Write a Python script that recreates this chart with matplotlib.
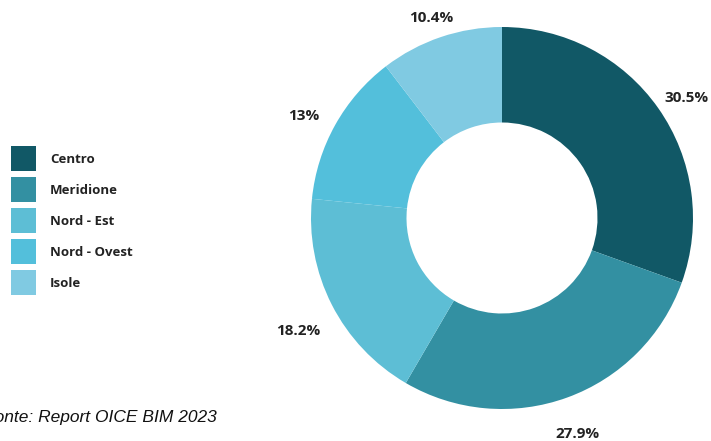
import matplotlib.pyplot as plt
import numpy as np

# Distribuzione per area geografica
regions = ["Centro", "Meridione", "Nord - Est", "Nord - Ovest", "Isole"]
shares = [30.5, 27.9, 18.2, 13, 10.4]
share_labels = ["30.5%", "27.9%", "18.2%", "13%", "10.4%"]
colors = ["#115866", "#3390a2", "#5dbed5", "#53bfdb", "#80cae2"]

W, H, DPI = 711, 441, 100
fig = plt.figure(figsize=(W / DPI, H / DPI), dpi=DPI)

# donut centre and radius in pixels
cx, cy, R = 502, 218, 191
lim = 1.3
side = 2 * lim * R
ax = fig.add_axes([(cx - side / 2) / W, (H - cy - side / 2) / H, side / W, side / H])

wedges, _ = ax.pie(shares, colors=colors, startangle=90, counterclock=False,
                   radius=1, wedgeprops=dict(width=0.5, edgecolor="none"))
ax.set_xlim(-lim, lim)
ax.set_ylim(-lim, lim)
ax.set_aspect("equal")
ax.axis("off")

# percentage labels: text box pushed out until it touches a circle around
# a point a little below the ring centre
renderer = fig.canvas.get_renderer()
r0 = 1.115
y_off = -9 / R
for w, lab in zip(wedges, share_labels):
    ang = np.deg2rad((w.theta1 + w.theta2) / 2)
    dx, dy = np.cos(ang), np.sin(ang)
    t = ax.text(r0 * dx, r0 * dy, lab, ha="center", va="center",
                fontsize=11, fontweight="bold", family="Open Sans", color="#222222",
                clip_on=False)
    bb = t.get_window_extent(renderer)
    hw, hh = bb.width / 2 / R, bb.height / 2 / R
    push = min(hw / max(abs(dx), 1e-6), hh / max(abs(dy), 1e-6))
    t.set_position(((r0 + push) * dx, (r0 + push) * dy + y_off))

fig.legend(wedges, regions, loc="upper left", bbox_to_anchor=(11 / W, 0.668),
           frameon=False, prop=dict(family="Open Sans", weight="bold", size=9.5),
           handlelength=1.9, handleheight=2.54, handletextpad=1.06,
           labelspacing=0.45, borderaxespad=0, borderpad=0, labelcolor="#222222")

fig.text(217 / W, 19 / H, "Fonte: Report OICE BIM 2023", ha="right", va="baseline",
         fontsize=12.5, style="italic", family="Liberation Sans", color="#111111")

fig.savefig("out.png", dpi=DPI)
